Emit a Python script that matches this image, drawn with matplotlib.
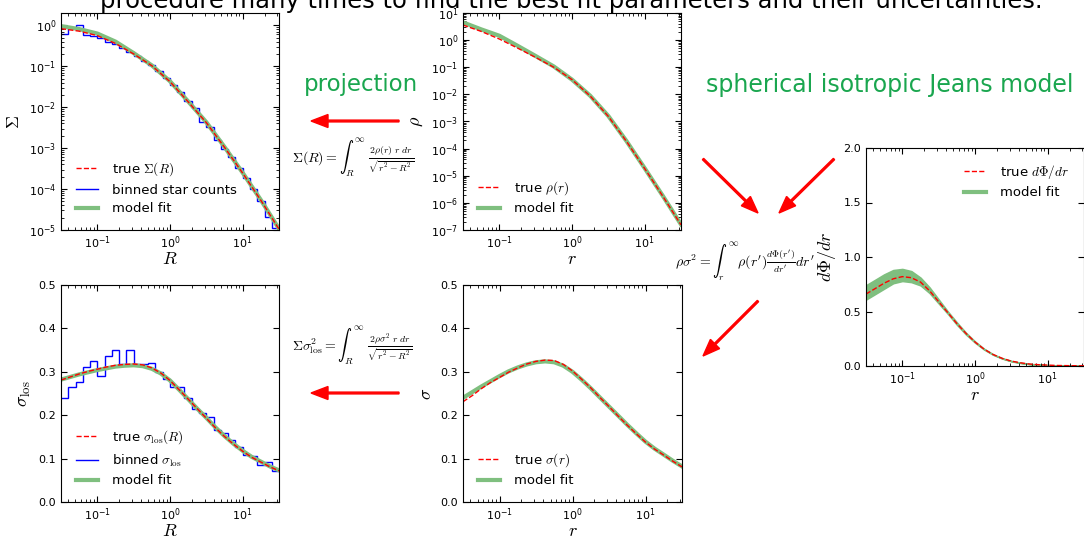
import matplotlib
matplotlib.use("Agg")
import matplotlib.pyplot as plt
from matplotlib.patches import FancyArrow
from matplotlib.transforms import IdentityTransform
from matplotlib.ticker import LogLocator, NullFormatter, MultipleLocator

plt.rcParams['font.family'] = 'DejaVu Sans'
plt.rcParams['mathtext.fontset'] = 'cm'

W, H = 1084, 538

# radius grids (quarter and eighth of a decade)
r_coarse = [0.0316, 0.0562, 0.1, 0.178, 0.316, 0.562, 1.0, 1.78, 3.16, 5.62, 10.0, 17.8, 31.6]
r_fine = [0.0316, 0.0422, 0.0562, 0.075, 0.1, 0.133, 0.178, 0.237, 0.316, 0.422, 0.562, 0.75,
          1.0, 1.33, 1.78, 2.37, 3.16, 4.22, 5.62, 7.5, 10.0, 13.3, 17.8, 23.7, 31.6]
r_bin_edges = [0.0316, 0.0398, 0.0501, 0.0631, 0.0794, 0.1, 0.126, 0.158, 0.2, 0.251,
               0.316, 0.398, 0.501, 0.631, 0.794, 1.0, 1.26, 1.58, 2.0, 2.51,
               3.16, 3.98, 5.01, 6.31, 7.94, 10.0, 12.6, 15.8, 20.0, 25.1, 31.6]

# surface density
sigma_true = [0.83, 0.72, 0.56, 0.36, 0.20, 0.103, 0.042, 0.0135, 0.0042, 1.05e-3, 2.45e-4, 5.3e-5, 1.05e-5]
sigma_model = [0.955, 0.81, 0.63, 0.40, 0.21, 0.105, 0.043, 0.0138, 0.0043, 1.07e-3, 2.5e-4, 5.4e-5, 1.07e-5]
sigma_binned = [0.63, 0.87, 1.0, 0.575, 0.56, 0.48, 0.40, 0.355, 0.28, 0.22,
                0.174, 0.138, 0.105, 0.076, 0.052, 0.035, 0.024, 0.0141, 0.0093, 0.0044,
                0.0033, 0.00158, 9.5e-4, 6.0e-4, 3.2e-4, 1.9e-4, 1.0e-4, 5.0e-5, 2.1e-5, 1.1e-5]

# 3d density
rho_true = [3.6, 2.1, 1.1, 0.51, 0.23, 0.10, 0.035, 0.0087, 1.55e-3, 1.85e-4, 1.85e-5, 1.75e-6, 1.55e-7]
rho_model = [4.5, 2.5, 1.45, 0.62, 0.26, 0.107, 0.035, 0.0089, 1.6e-3, 1.9e-4, 1.9e-5, 1.8e-6, 1.6e-7]

# line-of-sight dispersion
slos_true = [0.281, 0.288, 0.295, 0.301, 0.306, 0.311, 0.315, 0.317, 0.318, 0.316, 0.309, 0.297,
             0.280, 0.259, 0.237, 0.215, 0.193, 0.171, 0.151, 0.133, 0.117, 0.103, 0.092, 0.081, 0.072]
slos_model = [0.282, 0.288, 0.294, 0.299, 0.304, 0.308, 0.312, 0.314, 0.315, 0.313, 0.307, 0.296,
              0.280, 0.259, 0.237, 0.215, 0.194, 0.172, 0.152, 0.134, 0.118, 0.104, 0.093, 0.082, 0.073]
slos_binned = [0.240, 0.266, 0.276, 0.310, 0.325, 0.290, 0.336, 0.350, 0.317, 0.350,
               0.317, 0.319, 0.321, 0.300, 0.284, 0.266, 0.266, 0.240, 0.214, 0.205,
               0.197, 0.165, 0.160, 0.143, 0.126, 0.108, 0.106, 0.085, 0.092, 0.072]

# 3d dispersion
s3d_true = [0.231, 0.245, 0.261, 0.275, 0.287, 0.299, 0.309, 0.318, 0.324, 0.327, 0.326, 0.317,
            0.302, 0.283, 0.263, 0.241, 0.220, 0.198, 0.177, 0.157, 0.138, 0.122, 0.108, 0.094, 0.081]
s3d_model = [0.240, 0.253, 0.266, 0.278, 0.290, 0.301, 0.310, 0.317, 0.322, 0.324, 0.322, 0.314,
             0.300, 0.282, 0.262, 0.241, 0.220, 0.199, 0.178, 0.158, 0.139, 0.123, 0.109, 0.095, 0.082]

# potential gradient
dphi_true = [0.66, 0.71, 0.76, 0.80, 0.82, 0.81, 0.77, 0.69, 0.59, 0.49, 0.39, 0.30,
             0.22, 0.155, 0.105, 0.070, 0.045, 0.029, 0.018, 0.012, 0.008, 0.005, 0.0035, 0.0025, 0.0017]
dphi_upper = [0.74, 0.79, 0.84, 0.88, 0.89, 0.87, 0.81, 0.72, 0.61, 0.50, 0.40, 0.305,
              0.225, 0.158, 0.107, 0.071, 0.046, 0.030, 0.019, 0.012, 0.008, 0.005, 0.0035, 0.0025, 0.0017]
dphi_lower = [0.61, 0.66, 0.71, 0.76, 0.78, 0.77, 0.74, 0.67, 0.575, 0.48, 0.38, 0.29,
              0.215, 0.152, 0.103, 0.069, 0.044, 0.028, 0.017, 0.011, 0.007, 0.0045, 0.003, 0.002, 0.0015]

GREEN = '#7fbf7f'
TEXT_GREEN = '#1aa64f'


def px_axes(fig, left, top, right, bottom):
    return fig.add_axes([left / W, 1 - bottom / H, (right - left) / W, (bottom - top) / H])


def style_axes(ax, ylog=False):
    ax.set_xscale('log')
    ax.set_xlim(10 ** -1.5, 10 ** 1.5)
    if ylog:
        ax.set_yscale('log')
        ax.yaxis.set_major_locator(LogLocator(base=10, numticks=12))
        ax.yaxis.set_minor_locator(LogLocator(base=10, subs=range(2, 10), numticks=12))
        ax.yaxis.set_minor_formatter(NullFormatter())
    ax.tick_params(which='both', direction='in', top=True, right=True, labelsize=8)
    ax.tick_params(which='major', length=4.5, width=0.8)
    ax.tick_params(which='minor', length=2.5, width=0.6)


def set_labels(ax, xlabel, ylabel):
    ax.set_xlabel(xlabel, fontsize=13, labelpad=-1)
    ax.set_ylabel(ylabel, fontsize=13)


def add_legend(ax, handles, loc='lower left'):
    ax.legend(handles=handles, loc=loc, frameon=False, fontsize=9.5,
              handlelength=1.7, handletextpad=1.1, labelspacing=0.45, borderaxespad=0.7)


def red_arrow(fig, x0, y0, x1, y1):
    fig.add_artist(FancyArrow(x0, H - y0, x1 - x0, y0 - y1, width=1.8, head_width=13,
                              head_length=17, length_includes_head=True, color='red',
                              transform=IdentityTransform()))


fig = plt.figure(figsize=(W / 100, H / 100), dpi=100)

# surface density
ax1 = px_axes(fig, 61, 13, 279, 230)
style_axes(ax1, ylog=True)
m, = ax1.plot(r_coarse, sigma_model, color=GREEN, lw=3, label='model fit')
b = ax1.stairs(sigma_binned, r_bin_edges, baseline=None, color='b', lw=1, label='binned star counts')
t, = ax1.plot(r_coarse, sigma_true, 'r--', lw=1, label=r'true $\Sigma(R)$')
ax1.set_ylim(1e-5, 2)
set_labels(ax1, r'$R$', r'$\Sigma$')
add_legend(ax1, [t, b, m])

# line-of-sight dispersion
ax2 = px_axes(fig, 61, 285, 279, 502)
style_axes(ax2)
m, = ax2.plot(r_fine, slos_model, color=GREEN, lw=3, label='model fit')
b = ax2.stairs(slos_binned, r_bin_edges, baseline=None, color='b', lw=1, label=r'binned $\sigma_{\rm los}$')
t, = ax2.plot(r_fine, slos_true, 'r--', lw=1, label=r'true $\sigma_{\rm los}(R)$')
ax2.set_ylim(0, 0.5)
ax2.yaxis.set_major_locator(MultipleLocator(0.1))
set_labels(ax2, r'$R$', r'$\sigma_{\rm los}$')
add_legend(ax2, [t, b, m])

# 3d density
ax3 = px_axes(fig, 463, 13, 681, 230)
style_axes(ax3, ylog=True)
m, = ax3.plot(r_coarse, rho_model, color=GREEN, lw=3, label='model fit')
t, = ax3.plot(r_coarse, rho_true, 'r--', lw=1, label=r'true $\rho(r)$')
ax3.set_ylim(1e-7, 10)
set_labels(ax3, r'$r$', r'$\rho$')
add_legend(ax3, [t, m])

# 3d dispersion
ax4 = px_axes(fig, 463, 285, 682, 502)
style_axes(ax4)
m, = ax4.plot(r_fine, s3d_model, color=GREEN, lw=3, label='model fit')
t, = ax4.plot(r_fine, s3d_true, 'r--', lw=1, label=r'true $\sigma(r)$')
ax4.set_ylim(0, 0.5)
ax4.yaxis.set_major_locator(MultipleLocator(0.1))
set_labels(ax4, r'$r$', r'$\sigma$')
add_legend(ax4, [t, m])

# potential gradient
ax5 = px_axes(fig, 866, 148, 1084, 366)
style_axes(ax5)
ax5.fill_between(r_fine, dphi_lower, dphi_upper, color=GREEN, lw=1.2, edgecolor=GREEN)
m, = ax5.plot([], [], color=GREEN, lw=3, label='model fit')
t, = ax5.plot(r_fine, dphi_true, 'r--', lw=1, label=r'true $d\Phi/dr$')
ax5.set_ylim(0, 2.0)
ax5.yaxis.set_major_locator(MultipleLocator(0.5))
set_labels(ax5, r'$r$', r'$d\Phi/dr$')
add_legend(ax5, [t, m], loc='upper right')

# slide text
fig.text(100 / W, 1 - 8 / H, 'procedure many times to find the best fit parameters and their uncertainties.',
         fontsize=17.5, va='baseline', ha='left')
fig.text(361 / W, 1 - 85 / H, 'projection', fontsize=16.5, color=TEXT_GREEN, ha='center', va='center')
fig.text(890 / W, 1 - 85 / H, 'spherical isotropic Jeans model', fontsize=17, color=TEXT_GREEN,
         ha='center', va='center')

# equations
fig.text(353 / W, 1 - 158 / H, r'$\Sigma(R) = \int_R^\infty\ \frac{2\rho(r)\ r\ dr}{\sqrt{r^2-R^2}}$',
         fontsize=10, ha='center', va='center')
fig.text(352 / W, 1 - 346 / H, r'$\Sigma\sigma_{\rm los}^2 = \int_R^\infty\ \frac{2\rho\sigma^2\ r\ dr}{\sqrt{r^2-R^2}}$',
         fontsize=10, ha='center', va='center')
fig.text(745 / W, 1 - 262 / H, r"$\rho\sigma^2 = \int_r^\infty \rho(r')\frac{d\Phi(r')}{dr'}dr'$",
         fontsize=10, ha='center', va='center')

# arrows
red_arrow(fig, 399, 121, 311, 121)
red_arrow(fig, 399, 393, 311, 393)
red_arrow(fig, 703, 159, 758, 213)
red_arrow(fig, 834, 159, 779, 213)
red_arrow(fig, 758, 301, 703, 356)

fig.savefig('out.png', dpi=100)
